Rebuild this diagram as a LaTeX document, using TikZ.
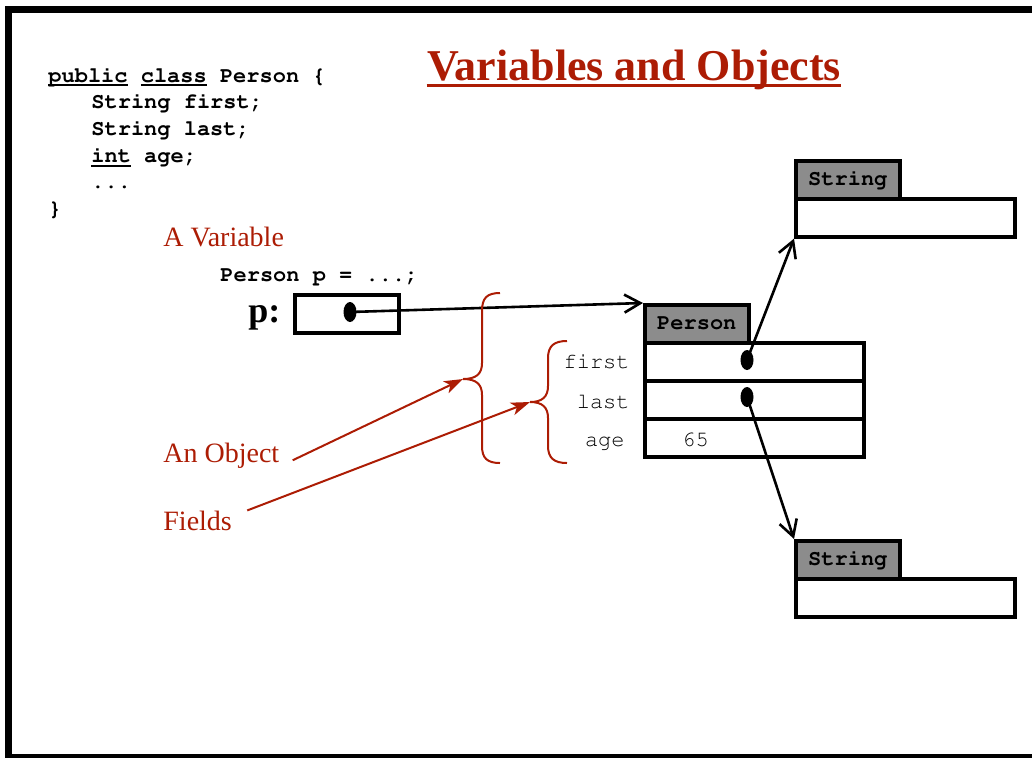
\documentclass[tikz,border=0pt]{standalone}
\usepackage[T1,TU]{fontenc}
\usepackage{fontspec}
\setmainfont{Liberation Serif}
\usepackage{xcolor}
\usepackage{tikz}
\usetikzlibrary{arrows.meta,shapes.geometric,calc}
\definecolor{slidered}{RGB}{172,28,4}
\definecolor{hdrgray}{RGB}{140,140,140}
\newcommand{\cour}{\fontencoding{T1}\fontfamily{pcr}\selectfont}
\newcommand{\undl}[1]{\setbox0\hbox{#1}\rlap{\rule[-2.2pt]{\wd0}{1pt}}\box0\relax}

\begin{document}
\begin{tikzpicture}[x=0.5pt,y=-0.5pt,
  code/.style={font=\cour\bfseries\fontsize{11}{13}\selectfont,inner sep=0pt,anchor=base west},
  fld/.style={font=\cour\fontsize{11}{13}\selectfont,inner sep=0pt},
  note/.style={font=\fontsize{14}{16}\selectfont,text=slidered,anchor=base west,inner sep=0pt},
  hdr/.style={draw,line width=1.8pt,fill=hdrgray,minimum width=52pt,minimum height=19pt,inner sep=0pt,anchor=north west,font=\cour\bfseries\fontsize{11}{13}\selectfont},
  cell/.style={draw,line width=1.8pt,minimum width=109.5pt,minimum height=19pt,inner sep=0pt,anchor=north west},
  dot/.style={ellipse,fill,minimum width=6.5pt,minimum height=10pt,inner sep=0pt},
  ptr/.style={line width=1.3pt,-{Straight Barb[length=8pt,width=9pt]}},
  redptr/.style={slidered,line width=1pt,-{Stealth[length=9.5pt,width=6.5pt,inset=2.5pt]}},
  bigbrace/.style={slidered,line width=1pt}]
\useasboundingbox (0,0) rectangle (1032,757);
\clip (0,0) rectangle (1032,757);
\draw[line width=3.5pt] (8,9.5) rectangle (1045,757);

\node[code] (c1) at (48,82) {\undl{public} \undl{class} Person \{};
\node[code] (c2) at (91,108.7) {String first;};
\node[code] (c3) at (91,135.4) {String last;};
\node[code] (c4) at (91,162.1) {\undl{int} age;};
\node[code] (c5) at (91,188.8) {...};
\node[code] (c6) at (48,215.5) {\}};

\node[inner sep=0pt,anchor=base,text=slidered,font=\bfseries\fontsize{22}{26}\selectfont] (title) at (634,80) {Variables and Objects};
\draw[slidered,line width=1.3pt] ([yshift=-2.7pt]title.base west) -- ([yshift=-2.7pt]title.base east);

\node[note] (labvar) at (163,246) {A Variable};
\node[code] (decl) at (220,281) {Person p = ...;};
\node[inner sep=0pt,anchor=base west,font=\bfseries\fontsize{18}{20}\selectfont] (pname) at (248,322) {p:};
\node[cell,minimum width=52pt] (pbox) at (293,293) {};
\node[dot] (pdot) at (350,312) {};

\node[hdr] (phead) at (643,303) {Person};
\node[cell] (pfirst) at (643,341) {};
\node[cell] (plast) at (643,379) {};
\node[cell] (page) at (643,417) {};
\node[fld,anchor=base east] (lfirst) at (630,368) {first};
\node[fld,anchor=base east] (llast) at (630,408) {last};
\node[fld,anchor=base east] (lage) at (625,446) {age};
\node[fld,anchor=base west] (vage) at (682,446) {65};
\node[dot] (dfirst) at (747,360) {};
\node[dot] (dlast) at (747,397) {};

\node[hdr] (shead1) at (794,159) {String};
\node[cell] (sbody1) at (794,197) {};
\node[hdr] (shead2) at (794,539) {String};
\node[cell] (sbody2) at (794,577) {};

\draw[ptr] (pdot.center) -- (phead.north west);
\draw[ptr] (dfirst.center) -- (sbody1.south west);
\draw[ptr] (dlast.center) -- (shead2.north west);

\coordinate (objtip) at (463,379);
\coordinate (fldtip) at (530,402);
\draw[bigbrace] (500,293) .. controls (487,293) and (482,298) .. (482,311) -- (482,363)
  .. controls (482,374) and (476,379) .. (objtip) .. controls (476,379) and (482,384) .. (482,395)
  -- (482,446) .. controls (482,458) and (487,463) .. (500,463);
\draw[bigbrace] (567,341) .. controls (554,341) and (548,346) .. (548,358) -- (548,386)
  .. controls (548,397) and (542,402) .. (fldtip) .. controls (542,402) and (548,407) .. (548,418)
  -- (548,446) .. controls (548,458) and (554,463) .. (567,463);

\node[note] (labobj) at (163,462) {An Object};
\node[note] (labfld) at (163,530) {Fields};
\draw[redptr] ($(labobj.east)+(13,5)$) -- (objtip);
\draw[redptr] ($(labfld.east)+(15,-10)$) -- (fldtip);
\end{tikzpicture}
\end{document}
